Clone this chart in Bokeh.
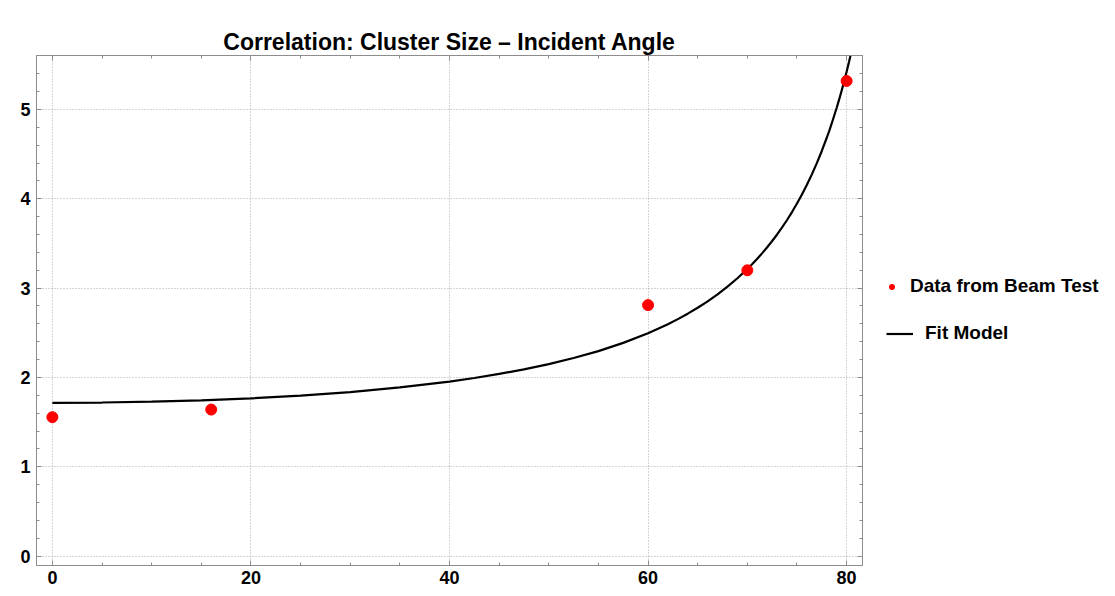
from bokeh.plotting import figure
from bokeh.layouts import row
from bokeh.models import (Range1d, LinearAxis, SingleIntervalTicker, Legend,
                          LegendItem, ColumnDataSource)
from bokeh.embed import file_html
from bokeh.resources import INLINE

# Beam test measurements: incident angle (deg) vs. mean cluster size
angle_data = [0, 16, 60, 70, 80]
cluster_data = [1.555, 1.64, 2.81, 3.20, 5.32]

# Fitted model curve sampled along the angle axis
fit_angle = [0, 5, 10, 15, 20, 25, 30, 35, 40, 42.5, 45, 47.5, 50, 52.5, 55,
             57.5, 60, 61, 62, 63, 64, 65, 66, 67, 68, 69, 70, 70.5, 71, 71.5,
             72, 72.5, 73, 73.5, 74, 74.5, 75, 75.5, 76, 76.5, 77, 77.5, 78,
             78.25, 78.5, 79, 79.25, 79.5, 79.75, 80, 80.25, 80.5]
fit_cluster = [1.716, 1.719, 1.728, 1.743, 1.766, 1.797, 1.836, 1.888, 1.954,
               1.994, 2.039, 2.090, 2.149, 2.217, 2.295, 2.387, 2.495, 2.544,
               2.596, 2.653, 2.714, 2.780, 2.852, 2.931, 3.016, 3.111, 3.215,
               3.271, 3.330, 3.392, 3.458, 3.528, 3.601, 3.680, 3.763, 3.852,
               3.947, 4.048, 4.157, 4.274, 4.400, 4.536, 4.684, 4.762, 4.844,
               5.020, 5.113, 5.212, 5.315, 5.423, 5.537, 5.657]

legend_labels = ["Data from Beam Test", "Fit Model"]

FONT = "Liberation Sans"
FRAME = "#8c8c8c"
RED = "#ff0000"

pts = ColumnDataSource(dict(x=angle_data, y=cluster_data))
fit = ColumnDataSource(dict(x=fit_angle, y=fit_cluster))

# ---- main chart -----------------------------------------------------------
p = figure(width=870, height=596, output_backend="svg", toolbar_location=None,
           x_range=Range1d(-1.6, 81.6), y_range=Range1d(-0.106, 5.605),
           min_border_left=36, min_border_right=8, min_border_top=55,
           min_border_bottom=31,
           title="Correlation: Cluster Size \u2013 Incident Angle")

p.title.align = "center"
p.title.text_font = FONT
p.title.text_font_style = "bold"
p.title.text_font_size = "23px"
p.title.text_color = "black"
p.title.standoff = 2

p.background_fill_color = "white"
p.border_fill_color = "white"
p.outline_line_color = FRAME

xt = SingleIntervalTicker(interval=20, num_minor_ticks=4)
yt = SingleIntervalTicker(interval=1, num_minor_ticks=5)

p.xaxis.ticker = xt
p.yaxis.ticker = yt

top_axis = LinearAxis(ticker=xt)
right_axis = LinearAxis(ticker=yt)
p.add_layout(top_axis, "above")
p.add_layout(right_axis, "right")

for ax in p.axis:
    ax.axis_line_color = FRAME
    ax.major_tick_line_color = FRAME
    ax.minor_tick_line_color = FRAME
    ax.major_tick_in = 5
    ax.major_tick_out = 0
    ax.minor_tick_in = 3
    ax.minor_tick_out = 0
    ax.major_label_text_font = FONT
    ax.major_label_text_font_style = "bold"
    ax.major_label_text_font_size = "18px"
    ax.major_label_text_color = "black"

p.xaxis[0].major_label_standoff = 4
p.yaxis[0].major_label_standoff = 6
for ax in (top_axis, right_axis):
    ax.major_label_text_font_size = "1px"
    ax.major_label_text_alpha = 0
    ax.major_label_standoff = 0

p.xgrid.ticker = xt
p.ygrid.ticker = yt
p.grid.grid_line_color = "#ababab"
p.grid.grid_line_dash = "1 2"
p.grid.grid_line_width = 1

p.line("x", "y", source=fit, line_color="black", line_width=2.2)
p.scatter("x", "y", source=pts, size=11, fill_color=RED, line_color=RED)

# ---- legend panel to the right of the chart -------------------------------
lg = figure(width=245, height=596, output_backend="svg", toolbar_location=None,
            x_range=Range1d(0, 1), y_range=Range1d(0, 1),
            min_border=0, outline_line_color=None)
lg.axis.visible = False
lg.grid.visible = False
lg.background_fill_color = "white"
lg.border_fill_color = "white"

# key glyphs only: their single point sits outside the visible range
key_pts = lg.scatter(x=[-5], y=[-5], size=11, fill_color=RED, line_color=RED)
key_fit = lg.line(x=[-5, -4], y=[-5, -5], line_color="black", line_width=2.2)

common = dict(padding=0, margin=0, spacing=0, label_standoff=12,
              border_line_color=None, background_fill_alpha=0,
              label_text_font=FONT, label_text_font_style="bold",
              label_text_font_size="19px", label_text_color="black")

lg.add_layout(Legend(items=[LegendItem(label=legend_labels[0], renderers=[key_pts])],
                     location=(15, 268), glyph_width=13, glyph_height=13,
                     **common), "center")
lg.add_layout(Legend(items=[LegendItem(label=legend_labels[1], renderers=[key_fit])],
                     location=(16, 221), glyph_width=27, glyph_height=15,
                     **common), "center")

open("out.html", "w").write(file_html(row(p, lg), INLINE))
